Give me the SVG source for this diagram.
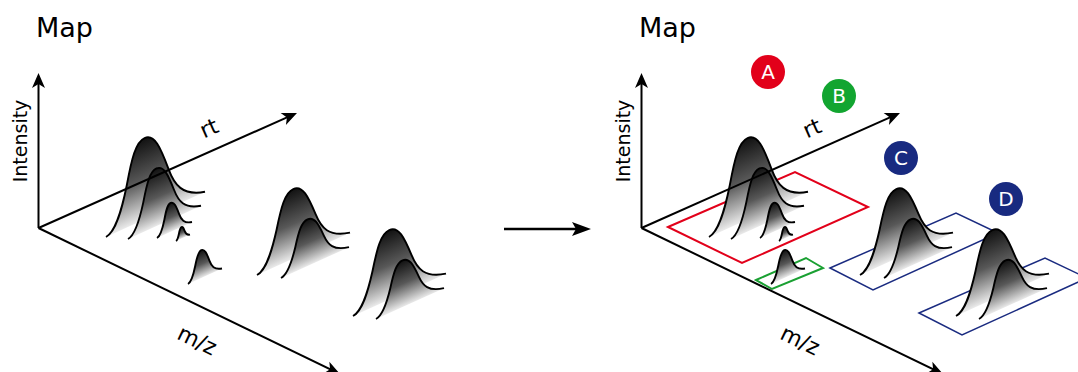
<svg xmlns="http://www.w3.org/2000/svg" xmlns:xlink="http://www.w3.org/1999/xlink" width="1078" height="372" viewBox="0 0 1078 372">
<style>
.ttl{font-family:"DejaVu Sans",Verdana,sans-serif;font-size:27px;fill:#000}
.lab{font-family:"DejaVu Sans",Verdana,sans-serif;font-size:22px;fill:#000}
.ilab{font-family:"DejaVu Sans",Verdana,sans-serif;font-size:19px;fill:#000}
.ax{stroke:#000;stroke-width:2;fill:none}
.big{stroke:#000;stroke-width:2.6;fill:none}
.pk{fill:url(#gr);stroke:#000;stroke-width:1.9;vector-effect:non-scaling-stroke;stroke-linejoin:round}
.box{fill:none;stroke-linejoin:miter}
.bA{stroke:#E2001A;stroke-width:2}
.bB{stroke:#1AA032;stroke-width:2}
.bC{stroke:#1A2B80;stroke-width:1.5}
.cl{font-family:"DejaVu Sans",Verdana,sans-serif;font-size:20px;fill:#fff;text-anchor:middle}
</style>
<defs>
<linearGradient id="gr" x1="0" y1="0" x2="0" y2="1">
<stop offset="0" stop-color="#111111"/>
<stop offset="0.5" stop-color="#585858"/>
<stop offset="1" stop-color="#ececec"/>
</linearGradient>
<path id="pk" class="pk" d="M0,0 C0.10,-0.01 0.16,-0.25 0.21,-0.52 C0.26,-0.82 0.30,-1 0.39,-1 C0.49,-1 0.55,-0.80 0.63,-0.50 C0.69,-0.27 0.77,-0.09 1,-0.02"/>
<marker id="ah" markerUnits="userSpaceOnUse" viewBox="-16 -8 17 16" markerWidth="17" markerHeight="16" refX="-6" refY="0" orient="auto">
<path d="M0,0 L-15,-6.5 L-11,0 L-15,6.5 Z" fill="#000"/>
</marker>
<marker id="ah2" markerUnits="userSpaceOnUse" viewBox="-20 -8 21 16" markerWidth="21" markerHeight="16" refX="-7" refY="0" orient="auto">
<path d="M0,0 L-19,-7 L-15,0 L-19,7 Z" fill="#000"/>
</marker>
</defs>

<g id="left-panel">
<text class="ttl" x="36" y="37">Map</text>
<g id="left-peaks">
<use xlink:href="#pk" transform="matrix(99,-43.56,0,82,106,237)"/>
<use xlink:href="#pk" transform="matrix(73,-32.12,0,58,128,239)"/>
<use xlink:href="#pk" transform="matrix(35,-15.4,0,29,157,238)"/>
<use xlink:href="#pk" transform="matrix(14,-6.16,0,11.5,176,241)"/>
<use xlink:href="#pk" transform="matrix(34,-14.96,0,28,188,284)"/>
<use xlink:href="#pk" transform="matrix(93,-40.92,0,70,257,275)"/>
<use xlink:href="#pk" transform="matrix(68,-29.92,0,47,281,278)"/>
<use xlink:href="#pk" transform="matrix(93,-40.92,0,70,353,316)"/>
<use xlink:href="#pk" transform="matrix(68,-29.92,0,47,376,319)"/>
</g>
<g id="left-axes">
<line class="ax" x1="38.5" y1="228" x2="38.5" y2="79" marker-end="url(#ah)"/>
<line class="ax" x1="38.5" y1="228" x2="291.5" y2="115.4" marker-end="url(#ah)"/>
<line class="ax" x1="38.5" y1="228" x2="334.6" y2="371.4" marker-end="url(#ah)"/>
</g>
<text class="ilab" text-anchor="middle" transform="translate(27,141) rotate(-90)">Intensity</text>
<text class="lab" text-anchor="middle" transform="translate(212,135) rotate(-24)">rt</text>
<text class="lab" text-anchor="middle" transform="translate(194,347) rotate(26)">m/z</text>
</g>

<g id="connectors">
<line class="big" x1="504" y1="229" x2="584" y2="229" marker-end="url(#ah2)"/>
</g>

<g id="right-panel">
<text class="ttl" x="639" y="37">Map</text>
<g id="boxes">
<polygon id="boxA" class="box bA" points="668,227 795,172 868,207 742,263"/>
<polygon id="boxB" class="box bB" points="756,280 806,258 823,268 772,289"/>
<polygon id="boxC" class="box bC" points="830,268 956,213 998,233 873,290"/>
<polygon id="boxD" class="box bC" points="919,313 1045,258 1087,278 962,335"/>
</g>
<g id="right-peaks">
<use xlink:href="#pk" transform="matrix(99,-43.56,0,82,709,237)"/>
<use xlink:href="#pk" transform="matrix(73,-32.12,0,58,731,239)"/>
<use xlink:href="#pk" transform="matrix(35,-15.4,0,29,760,238)"/>
<use xlink:href="#pk" transform="matrix(14,-6.16,0,11.5,779,241)"/>
<use xlink:href="#pk" transform="matrix(34,-14.96,0,28,771,284)"/>
<use xlink:href="#pk" transform="matrix(93,-40.92,0,70,860,275)"/>
<use xlink:href="#pk" transform="matrix(68,-29.92,0,47,884,278)"/>
<use xlink:href="#pk" transform="matrix(93,-40.92,0,70,956,316)"/>
<use xlink:href="#pk" transform="matrix(68,-29.92,0,47,979,319)"/>
</g>
<g id="right-axes">
<line class="ax" x1="641.5" y1="228" x2="641.5" y2="79" marker-end="url(#ah)"/>
<line class="ax" x1="641.5" y1="228" x2="894.5" y2="115.4" marker-end="url(#ah)"/>
<line class="ax" x1="641.5" y1="228" x2="937.6" y2="371.4" marker-end="url(#ah)"/>
</g>
<text class="ilab" text-anchor="middle" transform="translate(630,141) rotate(-90)">Intensity</text>
<text class="lab" text-anchor="middle" transform="translate(815,135) rotate(-24)">rt</text>
<text class="lab" text-anchor="middle" transform="translate(797,347) rotate(26)">m/z</text>
<g id="nodeA"><circle cx="768" cy="72" r="17" fill="#E2001A"/><text class="cl" x="768" y="79">A</text></g>
<g id="nodeB"><circle cx="839" cy="96" r="17" fill="#12A530"/><text class="cl" x="839" y="103">B</text></g>
<g id="nodeC"><circle cx="901" cy="158" r="17" fill="#182A80"/><text class="cl" x="901" y="165">C</text></g>
<g id="nodeD"><circle cx="1006" cy="199" r="17" fill="#182A80"/><text class="cl" x="1006" y="206">D</text></g>
</g>
</svg>
